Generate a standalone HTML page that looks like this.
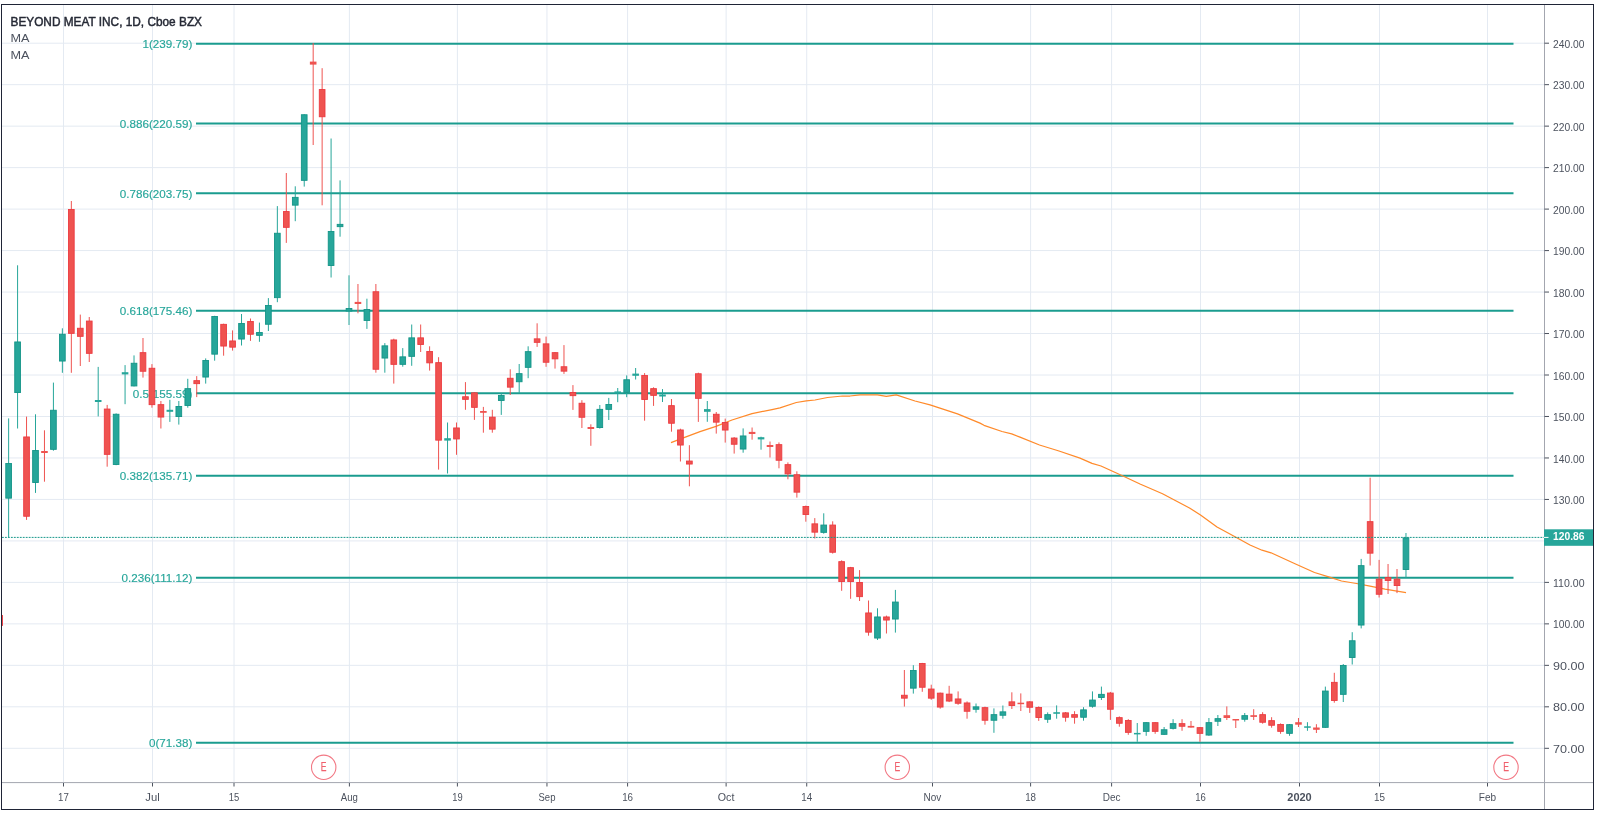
<!DOCTYPE html>
<html><head><meta charset="utf-8"><title>BYND 1D</title>
<style>html,body{margin:0;padding:0;background:#fff;width:1600px;height:817px;overflow:hidden;font-family:"Liberation Sans",sans-serif}</style>
</head><body>
<div style="will-change:transform;width:1600px;height:817px">
<svg width="1600" height="817" viewBox="0 0 1600 817" style="display:block">
<rect width="1600" height="817" fill="#fff"/>
<defs><clipPath id="pane"><rect x="2" y="5" width="1542" height="777.5"/></clipPath></defs>
<g clip-path="url(#pane)">
<line x1="63.5" y1="5" x2="63.5" y2="782" stroke="#e4eaf2" stroke-width="1"/>
<line x1="152.5" y1="5" x2="152.5" y2="782" stroke="#e4eaf2" stroke-width="1"/>
<line x1="234" y1="5" x2="234" y2="782" stroke="#e4eaf2" stroke-width="1"/>
<line x1="349.4" y1="5" x2="349.4" y2="782" stroke="#e4eaf2" stroke-width="1"/>
<line x1="457.39480000000003" y1="5" x2="457.39480000000003" y2="782" stroke="#e4eaf2" stroke-width="1"/>
<line x1="546.9678" y1="5" x2="546.9678" y2="782" stroke="#e4eaf2" stroke-width="1"/>
<line x1="627.5835" y1="5" x2="627.5835" y2="782" stroke="#e4eaf2" stroke-width="1"/>
<line x1="726.1138" y1="5" x2="726.1138" y2="782" stroke="#e4eaf2" stroke-width="1"/>
<line x1="806.7295" y1="5" x2="806.7295" y2="782" stroke="#e4eaf2" stroke-width="1"/>
<line x1="932.5" y1="5" x2="932.5" y2="782" stroke="#e4eaf2" stroke-width="1"/>
<line x1="1030.6" y1="5" x2="1030.6" y2="782" stroke="#e4eaf2" stroke-width="1"/>
<line x1="1111.6" y1="5" x2="1111.6" y2="782" stroke="#e4eaf2" stroke-width="1"/>
<line x1="1200.5" y1="5" x2="1200.5" y2="782" stroke="#e4eaf2" stroke-width="1"/>
<line x1="1299.5" y1="5" x2="1299.5" y2="782" stroke="#e4eaf2" stroke-width="1"/>
<line x1="1379.5" y1="5" x2="1379.5" y2="782" stroke="#e4eaf2" stroke-width="1"/>
<line x1="1487.5" y1="5" x2="1487.5" y2="782" stroke="#e4eaf2" stroke-width="1"/>
<line x1="2" y1="748.299" x2="1544" y2="748.299" stroke="#e4eaf2" stroke-width="1"/>
<line x1="2" y1="706.8220000000001" x2="1544" y2="706.8220000000001" stroke="#e4eaf2" stroke-width="1"/>
<line x1="2" y1="665.345" x2="1544" y2="665.345" stroke="#e4eaf2" stroke-width="1"/>
<line x1="2" y1="623.8680000000002" x2="1544" y2="623.8680000000002" stroke="#e4eaf2" stroke-width="1"/>
<line x1="2" y1="582.3910000000001" x2="1544" y2="582.3910000000001" stroke="#e4eaf2" stroke-width="1"/>
<line x1="2" y1="540.914" x2="1544" y2="540.914" stroke="#e4eaf2" stroke-width="1"/>
<line x1="2" y1="499.43700000000007" x2="1544" y2="499.43700000000007" stroke="#e4eaf2" stroke-width="1"/>
<line x1="2" y1="457.96000000000004" x2="1544" y2="457.96000000000004" stroke="#e4eaf2" stroke-width="1"/>
<line x1="2" y1="416.483" x2="1544" y2="416.483" stroke="#e4eaf2" stroke-width="1"/>
<line x1="2" y1="375.00600000000003" x2="1544" y2="375.00600000000003" stroke="#e4eaf2" stroke-width="1"/>
<line x1="2" y1="333.52900000000005" x2="1544" y2="333.52900000000005" stroke="#e4eaf2" stroke-width="1"/>
<line x1="2" y1="292.052" x2="1544" y2="292.052" stroke="#e4eaf2" stroke-width="1"/>
<line x1="2" y1="250.57500000000002" x2="1544" y2="250.57500000000002" stroke="#e4eaf2" stroke-width="1"/>
<line x1="2" y1="209.098" x2="1544" y2="209.098" stroke="#e4eaf2" stroke-width="1"/>
<line x1="2" y1="167.621" x2="1544" y2="167.621" stroke="#e4eaf2" stroke-width="1"/>
<line x1="2" y1="126.144" x2="1544" y2="126.144" stroke="#e4eaf2" stroke-width="1"/>
<line x1="2" y1="84.667" x2="1544" y2="84.667" stroke="#e4eaf2" stroke-width="1"/>
<line x1="2" y1="43.19" x2="1544" y2="43.19" stroke="#e4eaf2" stroke-width="1"/>
<line x1="196" y1="43.77" x2="1513.5" y2="43.77" stroke="#1a9c8f" stroke-width="2"/>
<line x1="196" y1="123.47" x2="1513.5" y2="123.47" stroke="#1a9c8f" stroke-width="2"/>
<line x1="196" y1="193.37" x2="1513.5" y2="193.37" stroke="#1a9c8f" stroke-width="2"/>
<line x1="196" y1="310.80" x2="1513.5" y2="310.80" stroke="#1a9c8f" stroke-width="2"/>
<line x1="196" y1="393.28" x2="1513.5" y2="393.28" stroke="#1a9c8f" stroke-width="2"/>
<line x1="196" y1="475.80" x2="1513.5" y2="475.80" stroke="#1a9c8f" stroke-width="2"/>
<line x1="196" y1="577.87" x2="1513.5" y2="577.87" stroke="#1a9c8f" stroke-width="2"/>
<line x1="196" y1="742.82" x2="1513.5" y2="742.82" stroke="#1a9c8f" stroke-width="2"/>
<text x="142.47" y="48.07" font-family="Liberation Sans, sans-serif" font-size="11.7" fill="#26a69a" stroke="#26a69a" stroke-width="0.15" textLength="49.93" lengthAdjust="spacingAndGlyphs">1(239.79)</text>
<text x="119.77" y="127.77" font-family="Liberation Sans, sans-serif" font-size="11.7" fill="#26a69a" stroke="#26a69a" stroke-width="0.15" textLength="72.63" lengthAdjust="spacingAndGlyphs">0.886(220.59)</text>
<text x="119.77" y="197.67" font-family="Liberation Sans, sans-serif" font-size="11.7" fill="#26a69a" stroke="#26a69a" stroke-width="0.15" textLength="72.63" lengthAdjust="spacingAndGlyphs">0.786(203.75)</text>
<text x="119.77" y="315.10" font-family="Liberation Sans, sans-serif" font-size="11.7" fill="#26a69a" stroke="#26a69a" stroke-width="0.15" textLength="72.63" lengthAdjust="spacingAndGlyphs">0.618(175.46)</text>
<text x="132.74" y="397.58" font-family="Liberation Sans, sans-serif" font-size="11.7" fill="#26a69a" stroke="#26a69a" stroke-width="0.15" textLength="59.66" lengthAdjust="spacingAndGlyphs">0.5(155.59)</text>
<text x="119.77" y="480.10" font-family="Liberation Sans, sans-serif" font-size="11.7" fill="#26a69a" stroke="#26a69a" stroke-width="0.15" textLength="72.63" lengthAdjust="spacingAndGlyphs">0.382(135.71)</text>
<text x="121.50" y="582.17" font-family="Liberation Sans, sans-serif" font-size="11.7" fill="#26a69a" stroke="#26a69a" stroke-width="0.15" textLength="70.90" lengthAdjust="spacingAndGlyphs">0.236(111.12)</text>
<text x="148.96" y="747.12" font-family="Liberation Sans, sans-serif" font-size="11.7" fill="#26a69a" stroke="#26a69a" stroke-width="0.15" textLength="43.44" lengthAdjust="spacingAndGlyphs">0(71.38)</text>
<polyline points="671,442.6 684,437.6 700,431.6 716,426.4 732,420 752,413.6 772,409.6 780,407.9 796.3,402.5 806.3,400.9 815,400 827.5,397.5 842.5,396 850,396 860,394.8 877.5,394.8 886.3,396.3 896.3,394.8 915,401 930,404.8 957.5,413.8 980,423.1 984,425.3 1002,431.5 1011.7,433.8 1020,437.2 1039.5,445 1059,451 1080,458.2 1092,463.3 1101,466 1123.5,476.2 1140,484 1162.5,493.8 1189.5,508 1200.5,515 1217,527 1235,536.8 1250,545 1262,550.2 1271,552.8 1295,563.8 1314.5,572.5 1329.5,577.2 1341.5,581 1356.5,583.5 1370,586.2 1385,589.2 1406,592.7" fill="none" stroke="#ff8a2a" stroke-width="1.25" stroke-linejoin="round"/>
<line x1="-0.33" y1="612.0" x2="-0.33" y2="628.0" stroke="#ef5350" stroke-width="1"/>
<rect x="-3.18" y="615.45" width="5.70" height="10.10" fill="#ef5350" stroke="#ec3a40" stroke-width="0.9"/>
<line x1="8.63" y1="418.4" x2="8.63" y2="537.2" stroke="#26a69a" stroke-width="1"/>
<rect x="5.78" y="463.55" width="5.70" height="34.60" fill="#26a69a" stroke="#139487" stroke-width="0.9"/>
<line x1="17.59" y1="265.3" x2="17.59" y2="428.5" stroke="#26a69a" stroke-width="1"/>
<rect x="14.74" y="341.95" width="5.70" height="50.60" fill="#26a69a" stroke="#139487" stroke-width="0.9"/>
<line x1="26.54" y1="416.6" x2="26.54" y2="519.9" stroke="#ef5350" stroke-width="1"/>
<rect x="23.69" y="436.95" width="5.70" height="79.30" fill="#ef5350" stroke="#ec3a40" stroke-width="0.9"/>
<line x1="35.50" y1="414.3" x2="35.50" y2="492.9" stroke="#26a69a" stroke-width="1"/>
<rect x="32.65" y="450.55" width="5.70" height="32.00" fill="#26a69a" stroke="#139487" stroke-width="0.9"/>
<line x1="44.46" y1="430.3" x2="44.46" y2="481.7" stroke="#ef5350" stroke-width="1"/>
<rect x="41.16" y="451.0" width="6.6" height="2.00" fill="#ef5350"/>
<line x1="53.42" y1="382.6" x2="53.42" y2="450.7" stroke="#26a69a" stroke-width="1"/>
<rect x="50.57" y="410.25" width="5.70" height="39.10" fill="#26a69a" stroke="#139487" stroke-width="0.9"/>
<line x1="62.37" y1="328.3" x2="62.37" y2="372.8" stroke="#26a69a" stroke-width="1"/>
<rect x="59.52" y="334.25" width="5.70" height="26.80" fill="#26a69a" stroke="#139487" stroke-width="0.9"/>
<line x1="71.33" y1="201.0" x2="71.33" y2="372.8" stroke="#ef5350" stroke-width="1"/>
<rect x="68.48" y="209.45" width="5.70" height="123.90" fill="#ef5350" stroke="#ec3a40" stroke-width="0.9"/>
<line x1="80.29" y1="314.6" x2="80.29" y2="366.0" stroke="#ef5350" stroke-width="1"/>
<rect x="77.44" y="328.25" width="5.70" height="8.10" fill="#ef5350" stroke="#ec3a40" stroke-width="0.9"/>
<line x1="89.25" y1="317.0" x2="89.25" y2="362.0" stroke="#ef5350" stroke-width="1"/>
<rect x="86.40" y="321.05" width="5.70" height="32.30" fill="#ef5350" stroke="#ec3a40" stroke-width="0.9"/>
<line x1="98.20" y1="366.9" x2="98.20" y2="416.4" stroke="#26a69a" stroke-width="1"/>
<rect x="94.90" y="400.0" width="6.6" height="2.00" fill="#26a69a"/>
<line x1="107.16" y1="404.9" x2="107.16" y2="466.7" stroke="#ef5350" stroke-width="1"/>
<rect x="104.31" y="409.05" width="5.70" height="45.30" fill="#ef5350" stroke="#ec3a40" stroke-width="0.9"/>
<line x1="116.12" y1="413.4" x2="116.12" y2="465.2" stroke="#26a69a" stroke-width="1"/>
<rect x="113.27" y="414.25" width="5.70" height="50.20" fill="#26a69a" stroke="#139487" stroke-width="0.9"/>
<line x1="125.07" y1="365.1" x2="125.07" y2="404.2" stroke="#26a69a" stroke-width="1"/>
<rect x="121.77" y="372.2" width="6.6" height="2.20" fill="#26a69a"/>
<line x1="134.03" y1="355.4" x2="134.03" y2="386.4" stroke="#26a69a" stroke-width="1"/>
<rect x="131.18" y="363.25" width="5.70" height="22.70" fill="#26a69a" stroke="#139487" stroke-width="0.9"/>
<line x1="142.99" y1="338.0" x2="142.99" y2="377.6" stroke="#ef5350" stroke-width="1"/>
<rect x="140.14" y="352.65" width="5.70" height="18.60" fill="#ef5350" stroke="#ec3a40" stroke-width="0.9"/>
<line x1="151.95" y1="364.1" x2="151.95" y2="407.7" stroke="#ef5350" stroke-width="1"/>
<rect x="149.10" y="368.25" width="5.70" height="36.40" fill="#ef5350" stroke="#ec3a40" stroke-width="0.9"/>
<line x1="160.90" y1="401.0" x2="160.90" y2="428.5" stroke="#ef5350" stroke-width="1"/>
<rect x="158.05" y="404.65" width="5.70" height="12.40" fill="#ef5350" stroke="#ec3a40" stroke-width="0.9"/>
<line x1="169.86" y1="399.8" x2="169.86" y2="421.9" stroke="#26a69a" stroke-width="1"/>
<rect x="166.56" y="409.8" width="6.6" height="2.00" fill="#26a69a"/>
<line x1="178.82" y1="401.0" x2="178.82" y2="424.6" stroke="#26a69a" stroke-width="1"/>
<rect x="175.97" y="406.45" width="5.70" height="10.10" fill="#26a69a" stroke="#139487" stroke-width="0.9"/>
<line x1="187.78" y1="378.8" x2="187.78" y2="407.7" stroke="#26a69a" stroke-width="1"/>
<rect x="184.93" y="388.65" width="5.70" height="16.90" fill="#26a69a" stroke="#139487" stroke-width="0.9"/>
<line x1="196.73" y1="376.1" x2="196.73" y2="397.1" stroke="#ef5350" stroke-width="1"/>
<rect x="193.88" y="380.65" width="5.70" height="3.00" fill="#ef5350" stroke="#ec3a40" stroke-width="0.9"/>
<line x1="205.69" y1="358.4" x2="205.69" y2="383.6" stroke="#26a69a" stroke-width="1"/>
<rect x="202.84" y="360.45" width="5.70" height="16.60" fill="#26a69a" stroke="#139487" stroke-width="0.9"/>
<line x1="214.65" y1="315.8" x2="214.65" y2="360.7" stroke="#26a69a" stroke-width="1"/>
<rect x="211.80" y="316.45" width="5.70" height="37.70" fill="#26a69a" stroke="#139487" stroke-width="0.9"/>
<line x1="223.61" y1="323.7" x2="223.61" y2="355.7" stroke="#ef5350" stroke-width="1"/>
<rect x="220.75" y="324.35" width="5.70" height="21.70" fill="#ef5350" stroke="#ec3a40" stroke-width="0.9"/>
<line x1="232.56" y1="330.4" x2="232.56" y2="350.6" stroke="#ef5350" stroke-width="1"/>
<rect x="229.71" y="340.95" width="5.70" height="6.20" fill="#ef5350" stroke="#ec3a40" stroke-width="0.9"/>
<line x1="241.52" y1="314.0" x2="241.52" y2="345.5" stroke="#26a69a" stroke-width="1"/>
<rect x="238.67" y="323.45" width="5.70" height="15.60" fill="#26a69a" stroke="#139487" stroke-width="0.9"/>
<line x1="250.48" y1="318.5" x2="250.48" y2="340.9" stroke="#ef5350" stroke-width="1"/>
<rect x="247.63" y="321.45" width="5.70" height="12.80" fill="#ef5350" stroke="#ec3a40" stroke-width="0.9"/>
<line x1="259.43" y1="322.6" x2="259.43" y2="341.8" stroke="#26a69a" stroke-width="1"/>
<rect x="256.58" y="332.45" width="5.70" height="2.90" fill="#26a69a" stroke="#139487" stroke-width="0.9"/>
<line x1="268.39" y1="298.1" x2="268.39" y2="331.0" stroke="#26a69a" stroke-width="1"/>
<rect x="265.54" y="305.55" width="5.70" height="18.70" fill="#26a69a" stroke="#139487" stroke-width="0.9"/>
<line x1="277.35" y1="206.1" x2="277.35" y2="302.2" stroke="#26a69a" stroke-width="1"/>
<rect x="274.50" y="233.25" width="5.70" height="64.40" fill="#26a69a" stroke="#139487" stroke-width="0.9"/>
<line x1="286.31" y1="173.0" x2="286.31" y2="242.9" stroke="#ef5350" stroke-width="1"/>
<rect x="283.46" y="211.55" width="5.70" height="15.80" fill="#ef5350" stroke="#ec3a40" stroke-width="0.9"/>
<line x1="295.26" y1="186.3" x2="295.26" y2="221.2" stroke="#26a69a" stroke-width="1"/>
<rect x="292.41" y="197.35" width="5.70" height="7.80" fill="#26a69a" stroke="#139487" stroke-width="0.9"/>
<line x1="304.22" y1="114.3" x2="304.22" y2="186.6" stroke="#26a69a" stroke-width="1"/>
<rect x="301.37" y="114.75" width="5.70" height="65.60" fill="#26a69a" stroke="#139487" stroke-width="0.9"/>
<line x1="313.18" y1="43.0" x2="313.18" y2="145.0" stroke="#ef5350" stroke-width="1"/>
<rect x="309.88" y="61.6" width="6.6" height="3.00" fill="#ef5350"/>
<line x1="322.14" y1="68.2" x2="322.14" y2="205.3" stroke="#ef5350" stroke-width="1"/>
<rect x="319.29" y="89.55" width="5.70" height="27.20" fill="#ef5350" stroke="#ec3a40" stroke-width="0.9"/>
<line x1="331.09" y1="138.5" x2="331.09" y2="277.5" stroke="#26a69a" stroke-width="1"/>
<rect x="328.24" y="231.45" width="5.70" height="34.10" fill="#26a69a" stroke="#139487" stroke-width="0.9"/>
<line x1="340.05" y1="180.4" x2="340.05" y2="236.7" stroke="#26a69a" stroke-width="1"/>
<rect x="337.20" y="224.35" width="5.70" height="2.30" fill="#26a69a" stroke="#139487" stroke-width="0.9"/>
<line x1="349.01" y1="275.3" x2="349.01" y2="325.0" stroke="#26a69a" stroke-width="1"/>
<rect x="346.16" y="308.55" width="5.70" height="2.50" fill="#26a69a" stroke="#139487" stroke-width="0.9"/>
<line x1="357.96" y1="284.0" x2="357.96" y2="313.3" stroke="#ef5350" stroke-width="1"/>
<rect x="354.66" y="301.9" width="6.6" height="2.10" fill="#ef5350"/>
<line x1="366.92" y1="298.7" x2="366.92" y2="328.9" stroke="#26a69a" stroke-width="1"/>
<rect x="364.07" y="309.45" width="5.70" height="11.00" fill="#26a69a" stroke="#139487" stroke-width="0.9"/>
<line x1="375.88" y1="284.0" x2="375.88" y2="372.7" stroke="#ef5350" stroke-width="1"/>
<rect x="373.03" y="291.75" width="5.70" height="77.50" fill="#ef5350" stroke="#ec3a40" stroke-width="0.9"/>
<line x1="384.84" y1="343.1" x2="384.84" y2="372.7" stroke="#26a69a" stroke-width="1"/>
<rect x="381.99" y="345.85" width="5.70" height="12.20" fill="#26a69a" stroke="#139487" stroke-width="0.9"/>
<line x1="393.79" y1="338.7" x2="393.79" y2="383.6" stroke="#ef5350" stroke-width="1"/>
<rect x="390.94" y="339.95" width="5.70" height="24.40" fill="#ef5350" stroke="#ec3a40" stroke-width="0.9"/>
<line x1="402.75" y1="348.1" x2="402.75" y2="366.7" stroke="#26a69a" stroke-width="1"/>
<rect x="399.90" y="356.85" width="5.70" height="7.50" fill="#26a69a" stroke="#139487" stroke-width="0.9"/>
<line x1="411.71" y1="324.5" x2="411.71" y2="365.8" stroke="#26a69a" stroke-width="1"/>
<rect x="408.86" y="337.85" width="5.70" height="18.50" fill="#26a69a" stroke="#139487" stroke-width="0.9"/>
<line x1="420.67" y1="324.5" x2="420.67" y2="352.0" stroke="#ef5350" stroke-width="1"/>
<rect x="417.82" y="337.85" width="5.70" height="6.60" fill="#ef5350" stroke="#ec3a40" stroke-width="0.9"/>
<line x1="429.62" y1="346.3" x2="429.62" y2="370.6" stroke="#ef5350" stroke-width="1"/>
<rect x="426.77" y="351.55" width="5.70" height="11.30" fill="#ef5350" stroke="#ec3a40" stroke-width="0.9"/>
<line x1="438.58" y1="357.2" x2="438.58" y2="469.6" stroke="#ef5350" stroke-width="1"/>
<rect x="435.73" y="362.65" width="5.70" height="77.50" fill="#ef5350" stroke="#ec3a40" stroke-width="0.9"/>
<line x1="447.54" y1="422.5" x2="447.54" y2="473.5" stroke="#26a69a" stroke-width="1"/>
<rect x="444.24" y="438.2" width="6.6" height="2.40" fill="#26a69a"/>
<line x1="456.49" y1="422.5" x2="456.49" y2="454.8" stroke="#ef5350" stroke-width="1"/>
<rect x="453.64" y="427.95" width="5.70" height="11.00" fill="#ef5350" stroke="#ec3a40" stroke-width="0.9"/>
<line x1="465.45" y1="382.1" x2="465.45" y2="409.8" stroke="#ef5350" stroke-width="1"/>
<rect x="462.60" y="396.75" width="5.70" height="2.60" fill="#ef5350" stroke="#ec3a40" stroke-width="0.9"/>
<line x1="474.41" y1="392.0" x2="474.41" y2="419.9" stroke="#ef5350" stroke-width="1"/>
<rect x="471.56" y="392.85" width="5.70" height="14.50" fill="#ef5350" stroke="#ec3a40" stroke-width="0.9"/>
<line x1="483.37" y1="406.9" x2="483.37" y2="432.7" stroke="#ef5350" stroke-width="1"/>
<rect x="480.07" y="411.0" width="6.6" height="1.80" fill="#ef5350"/>
<line x1="492.32" y1="409.8" x2="492.32" y2="432.7" stroke="#ef5350" stroke-width="1"/>
<rect x="489.47" y="417.15" width="5.70" height="12.00" fill="#ef5350" stroke="#ec3a40" stroke-width="0.9"/>
<line x1="501.28" y1="393.2" x2="501.28" y2="414.9" stroke="#26a69a" stroke-width="1"/>
<rect x="498.43" y="395.45" width="5.70" height="5.00" fill="#26a69a" stroke="#139487" stroke-width="0.9"/>
<line x1="510.24" y1="369.3" x2="510.24" y2="395.0" stroke="#ef5350" stroke-width="1"/>
<rect x="507.39" y="378.25" width="5.70" height="8.90" fill="#ef5350" stroke="#ec3a40" stroke-width="0.9"/>
<line x1="519.20" y1="364.0" x2="519.20" y2="392.9" stroke="#26a69a" stroke-width="1"/>
<rect x="516.35" y="373.65" width="5.70" height="8.10" fill="#26a69a" stroke="#139487" stroke-width="0.9"/>
<line x1="528.15" y1="346.3" x2="528.15" y2="378.2" stroke="#26a69a" stroke-width="1"/>
<rect x="525.30" y="351.65" width="5.70" height="15.70" fill="#26a69a" stroke="#139487" stroke-width="0.9"/>
<line x1="537.11" y1="323.3" x2="537.11" y2="346.9" stroke="#ef5350" stroke-width="1"/>
<rect x="534.26" y="338.85" width="5.70" height="3.50" fill="#ef5350" stroke="#ec3a40" stroke-width="0.9"/>
<line x1="546.07" y1="336.6" x2="546.07" y2="366.8" stroke="#ef5350" stroke-width="1"/>
<rect x="543.22" y="343.85" width="5.70" height="18.40" fill="#ef5350" stroke="#ec3a40" stroke-width="0.9"/>
<line x1="555.03" y1="352.2" x2="555.03" y2="368.6" stroke="#ef5350" stroke-width="1"/>
<rect x="552.18" y="352.65" width="5.70" height="6.20" fill="#ef5350" stroke="#ec3a40" stroke-width="0.9"/>
<line x1="563.98" y1="345.1" x2="563.98" y2="373.9" stroke="#ef5350" stroke-width="1"/>
<rect x="561.13" y="366.75" width="5.70" height="4.40" fill="#ef5350" stroke="#ec3a40" stroke-width="0.9"/>
<line x1="572.94" y1="385.1" x2="572.94" y2="409.9" stroke="#ef5350" stroke-width="1"/>
<rect x="570.09" y="392.45" width="5.70" height="3.20" fill="#ef5350" stroke="#ec3a40" stroke-width="0.9"/>
<line x1="581.90" y1="400.2" x2="581.90" y2="428.0" stroke="#ef5350" stroke-width="1"/>
<rect x="579.05" y="403.25" width="5.70" height="14.00" fill="#ef5350" stroke="#ec3a40" stroke-width="0.9"/>
<line x1="590.85" y1="424.3" x2="590.85" y2="445.8" stroke="#ef5350" stroke-width="1"/>
<rect x="587.55" y="427.0" width="6.6" height="2.00" fill="#ef5350"/>
<line x1="599.81" y1="405.0" x2="599.81" y2="428.6" stroke="#26a69a" stroke-width="1"/>
<rect x="596.96" y="409.35" width="5.70" height="18.20" fill="#26a69a" stroke="#139487" stroke-width="0.9"/>
<line x1="608.77" y1="397.9" x2="608.77" y2="420.0" stroke="#26a69a" stroke-width="1"/>
<rect x="605.92" y="404.55" width="5.70" height="4.80" fill="#26a69a" stroke="#139487" stroke-width="0.9"/>
<line x1="617.73" y1="388.0" x2="617.73" y2="402.2" stroke="#26a69a" stroke-width="1"/>
<rect x="614.43" y="391.4" width="6.6" height="2.10" fill="#26a69a"/>
<line x1="626.68" y1="375.4" x2="626.68" y2="397.2" stroke="#26a69a" stroke-width="1"/>
<rect x="623.83" y="379.75" width="5.70" height="12.60" fill="#26a69a" stroke="#139487" stroke-width="0.9"/>
<line x1="635.64" y1="368.0" x2="635.64" y2="379.5" stroke="#26a69a" stroke-width="1"/>
<rect x="632.34" y="373.6" width="6.6" height="2.20" fill="#26a69a"/>
<line x1="644.60" y1="373.1" x2="644.60" y2="420.7" stroke="#ef5350" stroke-width="1"/>
<rect x="641.75" y="375.55" width="5.70" height="23.90" fill="#ef5350" stroke="#ec3a40" stroke-width="0.9"/>
<line x1="653.56" y1="387.3" x2="653.56" y2="405.9" stroke="#ef5350" stroke-width="1"/>
<rect x="650.71" y="388.65" width="5.70" height="6.70" fill="#ef5350" stroke="#ec3a40" stroke-width="0.9"/>
<line x1="662.51" y1="389.1" x2="662.51" y2="402.0" stroke="#26a69a" stroke-width="1"/>
<rect x="659.21" y="394.5" width="6.6" height="2.00" fill="#26a69a"/>
<line x1="671.47" y1="399.0" x2="671.47" y2="431.7" stroke="#ef5350" stroke-width="1"/>
<rect x="668.62" y="405.65" width="5.70" height="17.60" fill="#ef5350" stroke="#ec3a40" stroke-width="0.9"/>
<line x1="680.43" y1="428.7" x2="680.43" y2="461.5" stroke="#ef5350" stroke-width="1"/>
<rect x="677.58" y="429.95" width="5.70" height="15.10" fill="#ef5350" stroke="#ec3a40" stroke-width="0.9"/>
<line x1="689.38" y1="445.2" x2="689.38" y2="486.3" stroke="#ef5350" stroke-width="1"/>
<rect x="686.53" y="461.05" width="5.70" height="3.00" fill="#ef5350" stroke="#ec3a40" stroke-width="0.9"/>
<line x1="698.34" y1="372.7" x2="698.34" y2="421.9" stroke="#ef5350" stroke-width="1"/>
<rect x="695.49" y="373.75" width="5.70" height="24.60" fill="#ef5350" stroke="#ec3a40" stroke-width="0.9"/>
<line x1="707.30" y1="401.0" x2="707.30" y2="421.8" stroke="#26a69a" stroke-width="1"/>
<rect x="704.00" y="409.1" width="6.6" height="2.70" fill="#26a69a"/>
<line x1="716.26" y1="412.0" x2="716.26" y2="433.6" stroke="#ef5350" stroke-width="1"/>
<rect x="713.41" y="414.25" width="5.70" height="7.90" fill="#ef5350" stroke="#ec3a40" stroke-width="0.9"/>
<line x1="725.21" y1="418.6" x2="725.21" y2="442.6" stroke="#ef5350" stroke-width="1"/>
<rect x="722.36" y="422.45" width="5.70" height="7.60" fill="#ef5350" stroke="#ec3a40" stroke-width="0.9"/>
<line x1="734.17" y1="437.1" x2="734.17" y2="453.6" stroke="#ef5350" stroke-width="1"/>
<rect x="731.32" y="438.05" width="5.70" height="6.20" fill="#ef5350" stroke="#ec3a40" stroke-width="0.9"/>
<line x1="743.13" y1="428.4" x2="743.13" y2="452.7" stroke="#26a69a" stroke-width="1"/>
<rect x="740.28" y="435.95" width="5.70" height="13.10" fill="#26a69a" stroke="#139487" stroke-width="0.9"/>
<line x1="752.09" y1="427.5" x2="752.09" y2="439.7" stroke="#ef5350" stroke-width="1"/>
<rect x="748.79" y="431.9" width="6.6" height="2.10" fill="#ef5350"/>
<line x1="761.04" y1="436.7" x2="761.04" y2="449.7" stroke="#26a69a" stroke-width="1"/>
<rect x="757.74" y="437.2" width="6.6" height="2.20" fill="#26a69a"/>
<line x1="770.00" y1="441.5" x2="770.00" y2="457.5" stroke="#ef5350" stroke-width="1"/>
<rect x="766.70" y="445.0" width="6.6" height="2.00" fill="#ef5350"/>
<line x1="778.96" y1="442.4" x2="778.96" y2="468.3" stroke="#ef5350" stroke-width="1"/>
<rect x="776.11" y="444.65" width="5.70" height="15.60" fill="#ef5350" stroke="#ec3a40" stroke-width="0.9"/>
<line x1="787.91" y1="462.4" x2="787.91" y2="479.3" stroke="#ef5350" stroke-width="1"/>
<rect x="785.06" y="464.65" width="5.70" height="9.20" fill="#ef5350" stroke="#ec3a40" stroke-width="0.9"/>
<line x1="796.87" y1="471.3" x2="796.87" y2="497.6" stroke="#ef5350" stroke-width="1"/>
<rect x="794.02" y="474.75" width="5.70" height="17.40" fill="#ef5350" stroke="#ec3a40" stroke-width="0.9"/>
<line x1="805.83" y1="505.6" x2="805.83" y2="521.7" stroke="#ef5350" stroke-width="1"/>
<rect x="802.98" y="506.45" width="5.70" height="8.00" fill="#ef5350" stroke="#ec3a40" stroke-width="0.9"/>
<line x1="814.79" y1="518.1" x2="814.79" y2="538.5" stroke="#ef5350" stroke-width="1"/>
<rect x="811.94" y="523.85" width="5.70" height="8.30" fill="#ef5350" stroke="#ec3a40" stroke-width="0.9"/>
<line x1="823.74" y1="513.3" x2="823.74" y2="533.7" stroke="#26a69a" stroke-width="1"/>
<rect x="820.89" y="525.05" width="5.70" height="7.30" fill="#26a69a" stroke="#139487" stroke-width="0.9"/>
<line x1="832.70" y1="521.3" x2="832.70" y2="553.6" stroke="#ef5350" stroke-width="1"/>
<rect x="829.85" y="525.05" width="5.70" height="27.20" fill="#ef5350" stroke="#ec3a40" stroke-width="0.9"/>
<line x1="841.66" y1="560.3" x2="841.66" y2="590.8" stroke="#ef5350" stroke-width="1"/>
<rect x="838.81" y="561.65" width="5.70" height="19.90" fill="#ef5350" stroke="#ec3a40" stroke-width="0.9"/>
<line x1="850.62" y1="566.9" x2="850.62" y2="598.8" stroke="#ef5350" stroke-width="1"/>
<rect x="847.77" y="567.65" width="5.70" height="13.90" fill="#ef5350" stroke="#ec3a40" stroke-width="0.9"/>
<line x1="859.57" y1="570.1" x2="859.57" y2="601.0" stroke="#ef5350" stroke-width="1"/>
<rect x="856.72" y="582.45" width="5.70" height="14.20" fill="#ef5350" stroke="#ec3a40" stroke-width="0.9"/>
<line x1="868.53" y1="600.5" x2="868.53" y2="635.7" stroke="#ef5350" stroke-width="1"/>
<rect x="865.68" y="612.95" width="5.70" height="19.20" fill="#ef5350" stroke="#ec3a40" stroke-width="0.9"/>
<line x1="877.49" y1="608.3" x2="877.49" y2="640.0" stroke="#26a69a" stroke-width="1"/>
<rect x="874.64" y="616.95" width="5.70" height="21.10" fill="#26a69a" stroke="#139487" stroke-width="0.9"/>
<line x1="886.45" y1="615.6" x2="886.45" y2="633.5" stroke="#ef5350" stroke-width="1"/>
<rect x="883.60" y="616.95" width="5.70" height="3.10" fill="#ef5350" stroke="#ec3a40" stroke-width="0.9"/>
<line x1="895.40" y1="589.9" x2="895.40" y2="632.6" stroke="#26a69a" stroke-width="1"/>
<rect x="892.55" y="602.05" width="5.70" height="17.00" fill="#26a69a" stroke="#139487" stroke-width="0.9"/>
<line x1="904.36" y1="670.0" x2="904.36" y2="706.6" stroke="#ef5350" stroke-width="1"/>
<rect x="901.51" y="695.25" width="5.70" height="2.90" fill="#ef5350" stroke="#ec3a40" stroke-width="0.9"/>
<line x1="913.32" y1="665.2" x2="913.32" y2="693.6" stroke="#26a69a" stroke-width="1"/>
<rect x="910.47" y="670.45" width="5.70" height="17.70" fill="#26a69a" stroke="#139487" stroke-width="0.9"/>
<line x1="922.27" y1="662.9" x2="922.27" y2="691.8" stroke="#ef5350" stroke-width="1"/>
<rect x="919.42" y="663.55" width="5.70" height="23.70" fill="#ef5350" stroke="#ec3a40" stroke-width="0.9"/>
<line x1="931.23" y1="684.7" x2="931.23" y2="699.8" stroke="#ef5350" stroke-width="1"/>
<rect x="928.38" y="689.05" width="5.70" height="9.10" fill="#ef5350" stroke="#ec3a40" stroke-width="0.9"/>
<line x1="940.19" y1="692.6" x2="940.19" y2="708.7" stroke="#ef5350" stroke-width="1"/>
<rect x="937.34" y="693.15" width="5.70" height="13.90" fill="#ef5350" stroke="#ec3a40" stroke-width="0.9"/>
<line x1="949.15" y1="685.8" x2="949.15" y2="702.1" stroke="#ef5350" stroke-width="1"/>
<rect x="946.30" y="694.15" width="5.70" height="6.90" fill="#ef5350" stroke="#ec3a40" stroke-width="0.9"/>
<line x1="958.10" y1="691.4" x2="958.10" y2="704.8" stroke="#ef5350" stroke-width="1"/>
<rect x="955.25" y="698.95" width="5.70" height="4.30" fill="#ef5350" stroke="#ec3a40" stroke-width="0.9"/>
<line x1="967.06" y1="701.4" x2="967.06" y2="718.7" stroke="#ef5350" stroke-width="1"/>
<rect x="964.21" y="702.95" width="5.70" height="8.30" fill="#ef5350" stroke="#ec3a40" stroke-width="0.9"/>
<line x1="976.02" y1="703.5" x2="976.02" y2="712.7" stroke="#26a69a" stroke-width="1"/>
<rect x="973.17" y="706.85" width="5.70" height="2.40" fill="#26a69a" stroke="#139487" stroke-width="0.9"/>
<line x1="984.98" y1="706.7" x2="984.98" y2="724.7" stroke="#ef5350" stroke-width="1"/>
<rect x="982.13" y="707.65" width="5.70" height="12.60" fill="#ef5350" stroke="#ec3a40" stroke-width="0.9"/>
<line x1="993.93" y1="708.4" x2="993.93" y2="732.8" stroke="#26a69a" stroke-width="1"/>
<rect x="991.08" y="714.65" width="5.70" height="5.60" fill="#26a69a" stroke="#139487" stroke-width="0.9"/>
<line x1="1002.89" y1="705.5" x2="1002.89" y2="718.7" stroke="#26a69a" stroke-width="1"/>
<rect x="1000.04" y="711.85" width="5.70" height="3.40" fill="#26a69a" stroke="#139487" stroke-width="0.9"/>
<line x1="1011.85" y1="692.3" x2="1011.85" y2="709.0" stroke="#ef5350" stroke-width="1"/>
<rect x="1009.00" y="701.85" width="5.70" height="3.70" fill="#ef5350" stroke="#ec3a40" stroke-width="0.9"/>
<line x1="1020.80" y1="693.4" x2="1020.80" y2="711.0" stroke="#ef5350" stroke-width="1"/>
<rect x="1017.50" y="702.7" width="6.6" height="1.50" fill="#ef5350"/>
<line x1="1029.76" y1="701.2" x2="1029.76" y2="712.9" stroke="#ef5350" stroke-width="1"/>
<rect x="1026.91" y="701.85" width="5.70" height="5.40" fill="#ef5350" stroke="#ec3a40" stroke-width="0.9"/>
<line x1="1038.72" y1="706.4" x2="1038.72" y2="720.9" stroke="#ef5350" stroke-width="1"/>
<rect x="1035.87" y="707.45" width="5.70" height="10.00" fill="#ef5350" stroke="#ec3a40" stroke-width="0.9"/>
<line x1="1047.68" y1="712.4" x2="1047.68" y2="722.9" stroke="#26a69a" stroke-width="1"/>
<rect x="1044.83" y="714.65" width="5.70" height="4.60" fill="#26a69a" stroke="#139487" stroke-width="0.9"/>
<line x1="1056.63" y1="705.4" x2="1056.63" y2="718.7" stroke="#26a69a" stroke-width="1"/>
<rect x="1053.33" y="712.2" width="6.6" height="1.60" fill="#26a69a"/>
<line x1="1065.59" y1="712.0" x2="1065.59" y2="721.7" stroke="#ef5350" stroke-width="1"/>
<rect x="1062.74" y="712.85" width="5.70" height="4.40" fill="#ef5350" stroke="#ec3a40" stroke-width="0.9"/>
<line x1="1074.55" y1="711.2" x2="1074.55" y2="723.7" stroke="#ef5350" stroke-width="1"/>
<rect x="1071.70" y="714.65" width="5.70" height="2.60" fill="#ef5350" stroke="#ec3a40" stroke-width="0.9"/>
<line x1="1083.51" y1="707.2" x2="1083.51" y2="720.7" stroke="#26a69a" stroke-width="1"/>
<rect x="1080.66" y="709.85" width="5.70" height="7.40" fill="#26a69a" stroke="#139487" stroke-width="0.9"/>
<line x1="1092.46" y1="691.4" x2="1092.46" y2="707.7" stroke="#26a69a" stroke-width="1"/>
<rect x="1089.61" y="700.05" width="5.70" height="6.20" fill="#26a69a" stroke="#139487" stroke-width="0.9"/>
<line x1="1101.42" y1="686.6" x2="1101.42" y2="700.0" stroke="#26a69a" stroke-width="1"/>
<rect x="1098.57" y="694.35" width="5.70" height="3.10" fill="#26a69a" stroke="#139487" stroke-width="0.9"/>
<line x1="1110.38" y1="691.9" x2="1110.38" y2="719.9" stroke="#ef5350" stroke-width="1"/>
<rect x="1107.53" y="693.05" width="5.70" height="16.20" fill="#ef5350" stroke="#ec3a40" stroke-width="0.9"/>
<line x1="1119.34" y1="716.4" x2="1119.34" y2="726.7" stroke="#ef5350" stroke-width="1"/>
<rect x="1116.49" y="717.65" width="5.70" height="5.60" fill="#ef5350" stroke="#ec3a40" stroke-width="0.9"/>
<line x1="1128.29" y1="719.2" x2="1128.29" y2="734.8" stroke="#ef5350" stroke-width="1"/>
<rect x="1125.44" y="720.45" width="5.70" height="11.90" fill="#ef5350" stroke="#ec3a40" stroke-width="0.9"/>
<line x1="1137.25" y1="723.0" x2="1137.25" y2="741.8" stroke="#26a69a" stroke-width="1"/>
<rect x="1133.95" y="732.9" width="6.6" height="1.50" fill="#26a69a"/>
<line x1="1146.21" y1="722.2" x2="1146.21" y2="735.8" stroke="#26a69a" stroke-width="1"/>
<rect x="1143.36" y="722.65" width="5.70" height="8.70" fill="#26a69a" stroke="#139487" stroke-width="0.9"/>
<line x1="1155.16" y1="722.2" x2="1155.16" y2="733.8" stroke="#ef5350" stroke-width="1"/>
<rect x="1152.31" y="722.65" width="5.70" height="8.70" fill="#ef5350" stroke="#ec3a40" stroke-width="0.9"/>
<line x1="1164.12" y1="727.0" x2="1164.12" y2="734.8" stroke="#26a69a" stroke-width="1"/>
<rect x="1161.27" y="729.75" width="5.70" height="4.60" fill="#26a69a" stroke="#139487" stroke-width="0.9"/>
<line x1="1173.08" y1="719.2" x2="1173.08" y2="729.5" stroke="#26a69a" stroke-width="1"/>
<rect x="1170.23" y="723.65" width="5.70" height="4.70" fill="#26a69a" stroke="#139487" stroke-width="0.9"/>
<line x1="1182.04" y1="719.2" x2="1182.04" y2="730.8" stroke="#ef5350" stroke-width="1"/>
<rect x="1179.19" y="723.65" width="5.70" height="2.60" fill="#ef5350" stroke="#ec3a40" stroke-width="0.9"/>
<line x1="1190.99" y1="721.0" x2="1190.99" y2="727.6" stroke="#ef5350" stroke-width="1"/>
<rect x="1187.69" y="725.9" width="6.6" height="1.70" fill="#ef5350"/>
<line x1="1199.95" y1="727.0" x2="1199.95" y2="741.8" stroke="#ef5350" stroke-width="1"/>
<rect x="1197.10" y="727.65" width="5.70" height="5.70" fill="#ef5350" stroke="#ec3a40" stroke-width="0.9"/>
<line x1="1208.91" y1="718.0" x2="1208.91" y2="735.8" stroke="#26a69a" stroke-width="1"/>
<rect x="1206.06" y="722.65" width="5.70" height="12.40" fill="#26a69a" stroke="#139487" stroke-width="0.9"/>
<line x1="1217.87" y1="715.0" x2="1217.87" y2="726.0" stroke="#26a69a" stroke-width="1"/>
<rect x="1215.02" y="718.65" width="5.70" height="2.60" fill="#26a69a" stroke="#139487" stroke-width="0.9"/>
<line x1="1226.82" y1="706.4" x2="1226.82" y2="720.0" stroke="#ef5350" stroke-width="1"/>
<rect x="1223.52" y="715.2" width="6.6" height="2.80" fill="#ef5350"/>
<line x1="1235.78" y1="719.2" x2="1235.78" y2="728.0" stroke="#ef5350" stroke-width="1"/>
<rect x="1232.48" y="719.0" width="6.6" height="1.50" fill="#ef5350"/>
<line x1="1244.74" y1="713.0" x2="1244.74" y2="721.7" stroke="#26a69a" stroke-width="1"/>
<rect x="1241.89" y="715.65" width="5.70" height="3.60" fill="#26a69a" stroke="#139487" stroke-width="0.9"/>
<line x1="1253.69" y1="709.2" x2="1253.69" y2="720.0" stroke="#ef5350" stroke-width="1"/>
<rect x="1250.39" y="715.2" width="6.6" height="1.70" fill="#ef5350"/>
<line x1="1262.65" y1="712.2" x2="1262.65" y2="723.7" stroke="#ef5350" stroke-width="1"/>
<rect x="1259.80" y="714.65" width="5.70" height="7.60" fill="#ef5350" stroke="#ec3a40" stroke-width="0.9"/>
<line x1="1271.61" y1="717.2" x2="1271.61" y2="727.7" stroke="#ef5350" stroke-width="1"/>
<rect x="1268.76" y="720.65" width="5.70" height="4.60" fill="#ef5350" stroke="#ec3a40" stroke-width="0.9"/>
<line x1="1280.57" y1="723.4" x2="1280.57" y2="733.8" stroke="#ef5350" stroke-width="1"/>
<rect x="1277.72" y="724.45" width="5.70" height="6.90" fill="#ef5350" stroke="#ec3a40" stroke-width="0.9"/>
<line x1="1289.52" y1="724.0" x2="1289.52" y2="735.8" stroke="#26a69a" stroke-width="1"/>
<rect x="1286.67" y="724.65" width="5.70" height="8.70" fill="#26a69a" stroke="#139487" stroke-width="0.9"/>
<line x1="1298.48" y1="718.0" x2="1298.48" y2="727.0" stroke="#ef5350" stroke-width="1"/>
<rect x="1295.18" y="722.2" width="6.6" height="2.50" fill="#ef5350"/>
<line x1="1307.44" y1="722.2" x2="1307.44" y2="730.8" stroke="#26a69a" stroke-width="1"/>
<rect x="1304.14" y="726.3" width="6.6" height="1.50" fill="#26a69a"/>
<line x1="1316.40" y1="724.2" x2="1316.40" y2="733.0" stroke="#ef5350" stroke-width="1"/>
<rect x="1313.10" y="727.5" width="6.6" height="2.30" fill="#ef5350"/>
<line x1="1325.35" y1="686.6" x2="1325.35" y2="727.8" stroke="#26a69a" stroke-width="1"/>
<rect x="1322.50" y="691.05" width="5.70" height="36.30" fill="#26a69a" stroke="#139487" stroke-width="0.9"/>
<line x1="1334.31" y1="672.8" x2="1334.31" y2="702.7" stroke="#ef5350" stroke-width="1"/>
<rect x="1331.46" y="682.35" width="5.70" height="18.10" fill="#ef5350" stroke="#ec3a40" stroke-width="0.9"/>
<line x1="1343.27" y1="664.0" x2="1343.27" y2="702.0" stroke="#26a69a" stroke-width="1"/>
<rect x="1340.42" y="665.45" width="5.70" height="28.90" fill="#26a69a" stroke="#139487" stroke-width="0.9"/>
<line x1="1352.22" y1="632.2" x2="1352.22" y2="664.5" stroke="#26a69a" stroke-width="1"/>
<rect x="1349.37" y="640.75" width="5.70" height="16.80" fill="#26a69a" stroke="#139487" stroke-width="0.9"/>
<line x1="1361.18" y1="558.9" x2="1361.18" y2="628.4" stroke="#26a69a" stroke-width="1"/>
<rect x="1358.33" y="565.65" width="5.70" height="59.40" fill="#26a69a" stroke="#139487" stroke-width="0.9"/>
<line x1="1370.14" y1="477.7" x2="1370.14" y2="565.5" stroke="#ef5350" stroke-width="1"/>
<rect x="1367.29" y="521.65" width="5.70" height="31.50" fill="#ef5350" stroke="#ec3a40" stroke-width="0.9"/>
<line x1="1379.10" y1="559.9" x2="1379.10" y2="597.5" stroke="#ef5350" stroke-width="1"/>
<rect x="1376.25" y="579.15" width="5.70" height="15.10" fill="#ef5350" stroke="#ec3a40" stroke-width="0.9"/>
<line x1="1388.05" y1="564.0" x2="1388.05" y2="594.0" stroke="#ef5350" stroke-width="1"/>
<rect x="1385.20" y="577.55" width="5.70" height="3.00" fill="#ef5350" stroke="#ec3a40" stroke-width="0.9"/>
<line x1="1397.01" y1="569.0" x2="1397.01" y2="593.1" stroke="#ef5350" stroke-width="1"/>
<rect x="1394.16" y="579.15" width="5.70" height="6.40" fill="#ef5350" stroke="#ec3a40" stroke-width="0.9"/>
<line x1="1405.97" y1="533.0" x2="1405.97" y2="577.9" stroke="#26a69a" stroke-width="1"/>
<rect x="1403.12" y="537.85" width="5.70" height="31.70" fill="#26a69a" stroke="#139487" stroke-width="0.9"/>
<line x1="2" y1="537.4" x2="1544" y2="537.4" stroke="#17978a" stroke-width="1" stroke-dasharray="1.85 1.12"/>
<circle cx="323.7" cy="767.3" r="12.2" fill="#fff" stroke="#f27884" stroke-width="1.1"/>
<text x="320.84999999999997" y="771" font-family="Liberation Sans, sans-serif" font-size="12.5" fill="#f0606d" stroke="#f0606d" stroke-width="0.25" textLength="5.7" lengthAdjust="spacingAndGlyphs">E</text>
<circle cx="897.3" cy="767.3" r="12.2" fill="#fff" stroke="#f27884" stroke-width="1.1"/>
<text x="894.4499999999999" y="771" font-family="Liberation Sans, sans-serif" font-size="12.5" fill="#f0606d" stroke="#f0606d" stroke-width="0.25" textLength="5.7" lengthAdjust="spacingAndGlyphs">E</text>
<circle cx="1506" cy="767.3" r="12.2" fill="#fff" stroke="#f27884" stroke-width="1.1"/>
<text x="1503.15" y="771" font-family="Liberation Sans, sans-serif" font-size="12.5" fill="#f0606d" stroke="#f0606d" stroke-width="0.25" textLength="5.7" lengthAdjust="spacingAndGlyphs">E</text>
</g>
<text x="10.5" y="25.5" font-family="Liberation Sans, sans-serif" font-size="12" fill="#262a36" stroke="#262a36" stroke-width="0.45" textLength="191.5" lengthAdjust="spacingAndGlyphs">BEYOND MEAT INC, 1D, Cboe BZX</text>
<text x="10.5" y="42.2" font-family="Liberation Sans, sans-serif" font-size="11.5" fill="#4c525e" textLength="19" lengthAdjust="spacingAndGlyphs">MA</text>
<text x="10.5" y="58.6" font-family="Liberation Sans, sans-serif" font-size="11.5" fill="#4c525e" textLength="19" lengthAdjust="spacingAndGlyphs">MA</text>
<line x1="1544.5" y1="5" x2="1544.5" y2="809" stroke="#a3a6af" stroke-width="1"/>
<line x1="2" y1="782.6" x2="1593" y2="782.6" stroke="#a3a6af" stroke-width="1"/>
<line x1="1544.5" y1="748.30" x2="1549" y2="748.30" stroke="#4c525e" stroke-width="1"/>
<text x="1553" y="752.90" font-family="Liberation Sans, sans-serif" font-size="11" fill="#4c525e" textLength="31.5" lengthAdjust="spacingAndGlyphs">70.00</text>
<line x1="1544.5" y1="706.82" x2="1549" y2="706.82" stroke="#4c525e" stroke-width="1"/>
<text x="1553" y="711.42" font-family="Liberation Sans, sans-serif" font-size="11" fill="#4c525e" textLength="31.5" lengthAdjust="spacingAndGlyphs">80.00</text>
<line x1="1544.5" y1="665.35" x2="1549" y2="665.35" stroke="#4c525e" stroke-width="1"/>
<text x="1553" y="669.95" font-family="Liberation Sans, sans-serif" font-size="11" fill="#4c525e" textLength="31.5" lengthAdjust="spacingAndGlyphs">90.00</text>
<line x1="1544.5" y1="623.87" x2="1549" y2="623.87" stroke="#4c525e" stroke-width="1"/>
<text x="1553" y="628.47" font-family="Liberation Sans, sans-serif" font-size="11" fill="#4c525e" textLength="31.5" lengthAdjust="spacingAndGlyphs">100.00</text>
<line x1="1544.5" y1="582.39" x2="1549" y2="582.39" stroke="#4c525e" stroke-width="1"/>
<text x="1553" y="586.99" font-family="Liberation Sans, sans-serif" font-size="11" fill="#4c525e" textLength="31.5" lengthAdjust="spacingAndGlyphs">110.00</text>
<line x1="1544.5" y1="499.44" x2="1549" y2="499.44" stroke="#4c525e" stroke-width="1"/>
<text x="1553" y="504.04" font-family="Liberation Sans, sans-serif" font-size="11" fill="#4c525e" textLength="31.5" lengthAdjust="spacingAndGlyphs">130.00</text>
<line x1="1544.5" y1="457.96" x2="1549" y2="457.96" stroke="#4c525e" stroke-width="1"/>
<text x="1553" y="462.56" font-family="Liberation Sans, sans-serif" font-size="11" fill="#4c525e" textLength="31.5" lengthAdjust="spacingAndGlyphs">140.00</text>
<line x1="1544.5" y1="416.48" x2="1549" y2="416.48" stroke="#4c525e" stroke-width="1"/>
<text x="1553" y="421.08" font-family="Liberation Sans, sans-serif" font-size="11" fill="#4c525e" textLength="31.5" lengthAdjust="spacingAndGlyphs">150.00</text>
<line x1="1544.5" y1="375.01" x2="1549" y2="375.01" stroke="#4c525e" stroke-width="1"/>
<text x="1553" y="379.61" font-family="Liberation Sans, sans-serif" font-size="11" fill="#4c525e" textLength="31.5" lengthAdjust="spacingAndGlyphs">160.00</text>
<line x1="1544.5" y1="333.53" x2="1549" y2="333.53" stroke="#4c525e" stroke-width="1"/>
<text x="1553" y="338.13" font-family="Liberation Sans, sans-serif" font-size="11" fill="#4c525e" textLength="31.5" lengthAdjust="spacingAndGlyphs">170.00</text>
<line x1="1544.5" y1="292.05" x2="1549" y2="292.05" stroke="#4c525e" stroke-width="1"/>
<text x="1553" y="296.65" font-family="Liberation Sans, sans-serif" font-size="11" fill="#4c525e" textLength="31.5" lengthAdjust="spacingAndGlyphs">180.00</text>
<line x1="1544.5" y1="250.58" x2="1549" y2="250.58" stroke="#4c525e" stroke-width="1"/>
<text x="1553" y="255.18" font-family="Liberation Sans, sans-serif" font-size="11" fill="#4c525e" textLength="31.5" lengthAdjust="spacingAndGlyphs">190.00</text>
<line x1="1544.5" y1="209.10" x2="1549" y2="209.10" stroke="#4c525e" stroke-width="1"/>
<text x="1553" y="213.70" font-family="Liberation Sans, sans-serif" font-size="11" fill="#4c525e" textLength="31.5" lengthAdjust="spacingAndGlyphs">200.00</text>
<line x1="1544.5" y1="167.62" x2="1549" y2="167.62" stroke="#4c525e" stroke-width="1"/>
<text x="1553" y="172.22" font-family="Liberation Sans, sans-serif" font-size="11" fill="#4c525e" textLength="31.5" lengthAdjust="spacingAndGlyphs">210.00</text>
<line x1="1544.5" y1="126.14" x2="1549" y2="126.14" stroke="#4c525e" stroke-width="1"/>
<text x="1553" y="130.74" font-family="Liberation Sans, sans-serif" font-size="11" fill="#4c525e" textLength="31.5" lengthAdjust="spacingAndGlyphs">220.00</text>
<line x1="1544.5" y1="84.67" x2="1549" y2="84.67" stroke="#4c525e" stroke-width="1"/>
<text x="1553" y="89.27" font-family="Liberation Sans, sans-serif" font-size="11" fill="#4c525e" textLength="31.5" lengthAdjust="spacingAndGlyphs">230.00</text>
<line x1="1544.5" y1="43.19" x2="1549" y2="43.19" stroke="#4c525e" stroke-width="1"/>
<text x="1553" y="47.79" font-family="Liberation Sans, sans-serif" font-size="11" fill="#4c525e" textLength="31.5" lengthAdjust="spacingAndGlyphs">240.00</text>
<rect x="1544" y="529.3" width="49" height="16.5" fill="#26a69a"/>
<line x1="1544" y1="537.4" x2="1548.5" y2="537.4" stroke="#fff" stroke-width="1"/>
<text x="1553" y="540.3" font-family="Liberation Sans, sans-serif" font-size="11" font-weight="bold" fill="#fff" textLength="31.5" lengthAdjust="spacingAndGlyphs">120.86</text>
<line x1="63.5" y1="783" x2="63.5" y2="786.5" stroke="#4c525e" stroke-width="1"/>
<text x="58.12" y="801.2" font-family="Liberation Sans, sans-serif" font-size="11" fill="#4c525e" textLength="10.75" lengthAdjust="spacingAndGlyphs">17</text>
<line x1="152.5" y1="783" x2="152.5" y2="786.5" stroke="#4c525e" stroke-width="1"/>
<text x="145.30" y="801.2" font-family="Liberation Sans, sans-serif" font-size="11" fill="#4c525e" textLength="14.4" lengthAdjust="spacingAndGlyphs">Jul</text>
<line x1="234" y1="783" x2="234" y2="786.5" stroke="#4c525e" stroke-width="1"/>
<text x="228.75" y="801.2" font-family="Liberation Sans, sans-serif" font-size="11" fill="#4c525e" textLength="10.5" lengthAdjust="spacingAndGlyphs">15</text>
<line x1="349.4" y1="783" x2="349.4" y2="786.5" stroke="#4c525e" stroke-width="1"/>
<text x="340.85" y="801.2" font-family="Liberation Sans, sans-serif" font-size="11" fill="#4c525e" textLength="17.1" lengthAdjust="spacingAndGlyphs">Aug</text>
<line x1="457.39480000000003" y1="783" x2="457.39480000000003" y2="786.5" stroke="#4c525e" stroke-width="1"/>
<text x="452.19" y="801.2" font-family="Liberation Sans, sans-serif" font-size="11" fill="#4c525e" textLength="10.4" lengthAdjust="spacingAndGlyphs">19</text>
<line x1="546.9678" y1="783" x2="546.9678" y2="786.5" stroke="#4c525e" stroke-width="1"/>
<text x="538.52" y="801.2" font-family="Liberation Sans, sans-serif" font-size="11" fill="#4c525e" textLength="16.9" lengthAdjust="spacingAndGlyphs">Sep</text>
<line x1="627.5835" y1="783" x2="627.5835" y2="786.5" stroke="#4c525e" stroke-width="1"/>
<text x="622.13" y="801.2" font-family="Liberation Sans, sans-serif" font-size="11" fill="#4c525e" textLength="10.9" lengthAdjust="spacingAndGlyphs">16</text>
<line x1="726.1138" y1="783" x2="726.1138" y2="786.5" stroke="#4c525e" stroke-width="1"/>
<text x="717.81" y="801.2" font-family="Liberation Sans, sans-serif" font-size="11" fill="#4c525e" textLength="16.6" lengthAdjust="spacingAndGlyphs">Oct</text>
<line x1="806.7295" y1="783" x2="806.7295" y2="786.5" stroke="#4c525e" stroke-width="1"/>
<text x="801.28" y="801.2" font-family="Liberation Sans, sans-serif" font-size="11" fill="#4c525e" textLength="10.9" lengthAdjust="spacingAndGlyphs">14</text>
<line x1="932.5" y1="783" x2="932.5" y2="786.5" stroke="#4c525e" stroke-width="1"/>
<text x="923.62" y="801.2" font-family="Liberation Sans, sans-serif" font-size="11" fill="#4c525e" textLength="17.75" lengthAdjust="spacingAndGlyphs">Nov</text>
<line x1="1030.6" y1="783" x2="1030.6" y2="786.5" stroke="#4c525e" stroke-width="1"/>
<text x="1025.15" y="801.2" font-family="Liberation Sans, sans-serif" font-size="11" fill="#4c525e" textLength="10.9" lengthAdjust="spacingAndGlyphs">18</text>
<line x1="1111.6" y1="783" x2="1111.6" y2="786.5" stroke="#4c525e" stroke-width="1"/>
<text x="1102.72" y="801.2" font-family="Liberation Sans, sans-serif" font-size="11" fill="#4c525e" textLength="17.75" lengthAdjust="spacingAndGlyphs">Dec</text>
<line x1="1200.5" y1="783" x2="1200.5" y2="786.5" stroke="#4c525e" stroke-width="1"/>
<text x="1195.20" y="801.2" font-family="Liberation Sans, sans-serif" font-size="11" fill="#4c525e" textLength="10.6" lengthAdjust="spacingAndGlyphs">16</text>
<line x1="1299.5" y1="783" x2="1299.5" y2="786.5" stroke="#4c525e" stroke-width="1"/>
<text x="1287.30" y="801.2" font-family="Liberation Sans, sans-serif" font-size="11" font-weight="bold" fill="#4c525e" textLength="24.4" lengthAdjust="spacingAndGlyphs">2020</text>
<line x1="1379.5" y1="783" x2="1379.5" y2="786.5" stroke="#4c525e" stroke-width="1"/>
<text x="1374.00" y="801.2" font-family="Liberation Sans, sans-serif" font-size="11" fill="#4c525e" textLength="11" lengthAdjust="spacingAndGlyphs">15</text>
<line x1="1487.5" y1="783" x2="1487.5" y2="786.5" stroke="#4c525e" stroke-width="1"/>
<text x="1478.85" y="801.2" font-family="Liberation Sans, sans-serif" font-size="11" fill="#4c525e" textLength="17.3" lengthAdjust="spacingAndGlyphs">Feb</text>
<rect x="1.5" y="4.5" width="1592" height="805" fill="none" stroke="#1f2436" stroke-width="1"/>
</svg>
</div>
</body></html>
